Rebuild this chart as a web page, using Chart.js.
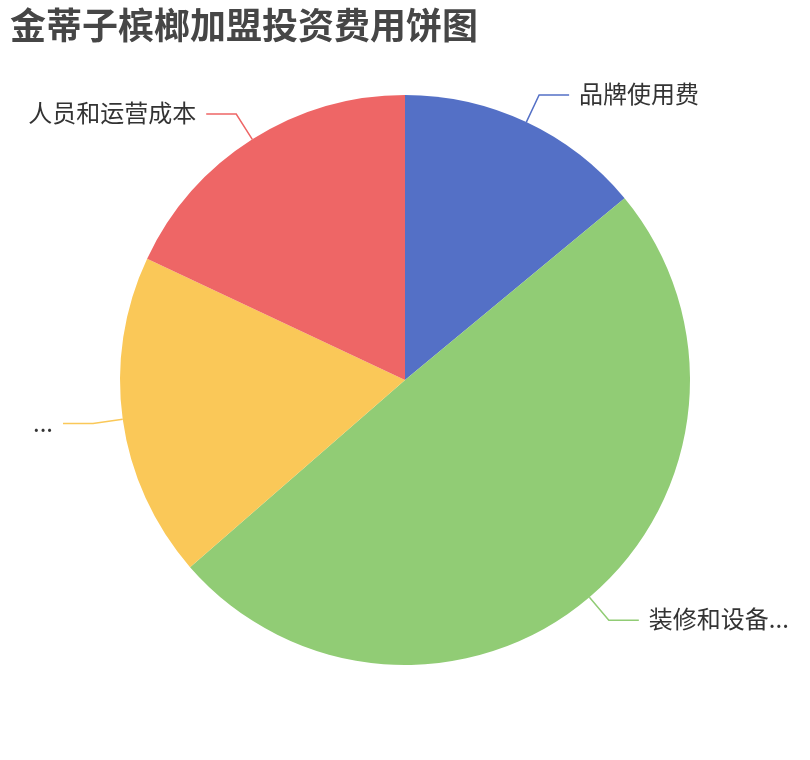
<!DOCTYPE html>
<html>
<head>
<meta charset="utf-8">
<script src="https://cdn.jsdelivr.net/npm/chart.js@4/dist/chart.umd.min.js"></script>
<style>
  body { margin: 0; background: #fff; }
  #wrap { width: 810px; height: 760px; position: relative; }
</style>
</head>
<body>
<div id="wrap"><canvas id="pieChart"></canvas></div>
<script>
// data
const categories = ['品牌使用费', '装修和设备...', '...', '人员和运营成本'];
const values = [14, 49.6, 18.4, 18];
const colors = ['#5470c6', '#91cc75', '#fac858', '#ee6666'];
const titleText = '金蒂子槟榔加盟投资费用饼图';

const fontFamily = '"Noto Sans CJK SC", "Noto Sans", sans-serif';

// title + outside labels with leader lines
const pieLabels = {
    id: 'pieLabels',
    afterDraw(chart) {
        const ctx = chart.ctx;
        ctx.save();
        ctx.fillStyle = '#464646';
        ctx.font = 'bold 36px ' + fontFamily;
        ctx.textAlign = 'left';
        ctx.textBaseline = 'middle';
        ctx.fillText(titleText, 10, 25);

        const meta = chart.getDatasetMeta(0);
        meta.data.forEach((arc, i) => {
            const p = arc.getProps(['x', 'y', 'startAngle', 'endAngle', 'outerRadius'], true);
            const mid = (p.startAngle + p.endAngle) / 2;
            const r1 = p.outerRadius;
            const r2 = p.outerRadius + 30;
            const x1 = p.x + Math.cos(mid) * r1, y1 = p.y + Math.sin(mid) * r1;
            const x2 = p.x + Math.cos(mid) * r2, y2 = p.y + Math.sin(mid) * r2;
            const right = Math.cos(mid) >= 0;
            const x3 = x2 + (right ? 30 : -30);
            ctx.strokeStyle = colors[i];
            ctx.lineWidth = 1.5;
            ctx.beginPath();
            ctx.moveTo(x1, y1);
            ctx.lineTo(x2, y2);
            ctx.lineTo(x3, y2);
            ctx.stroke();
            ctx.fillStyle = '#333';
            ctx.font = '24px ' + fontFamily;
            ctx.textAlign = right ? 'left' : 'right';
            ctx.fillText(categories[i], x3 + (right ? 10 : -10), y2 - 1);
        });
        ctx.restore();
    }
};

const ctx1 = document.getElementById('pieChart').getContext('2d');

const config1 = {
    type: 'pie',
    data: {
        labels: categories,
        datasets: [{
            data: values,
            backgroundColor: colors,
            borderWidth: 0
        }]
    },
    options: {
        responsive: true,
        maintainAspectRatio: false,
        animation: false,
        devicePixelRatio: 1,
        layout: {
            padding: { left: 120, right: 120, top: 95, bottom: 95 }
        },
        plugins: {
            legend: { display: false },
            tooltip: { enabled: false },
            title: { display: false }
        }
    },
    plugins: [pieLabels]
};

const myChart1 = new Chart(ctx1, config1);
</script>
</body>
</html>
